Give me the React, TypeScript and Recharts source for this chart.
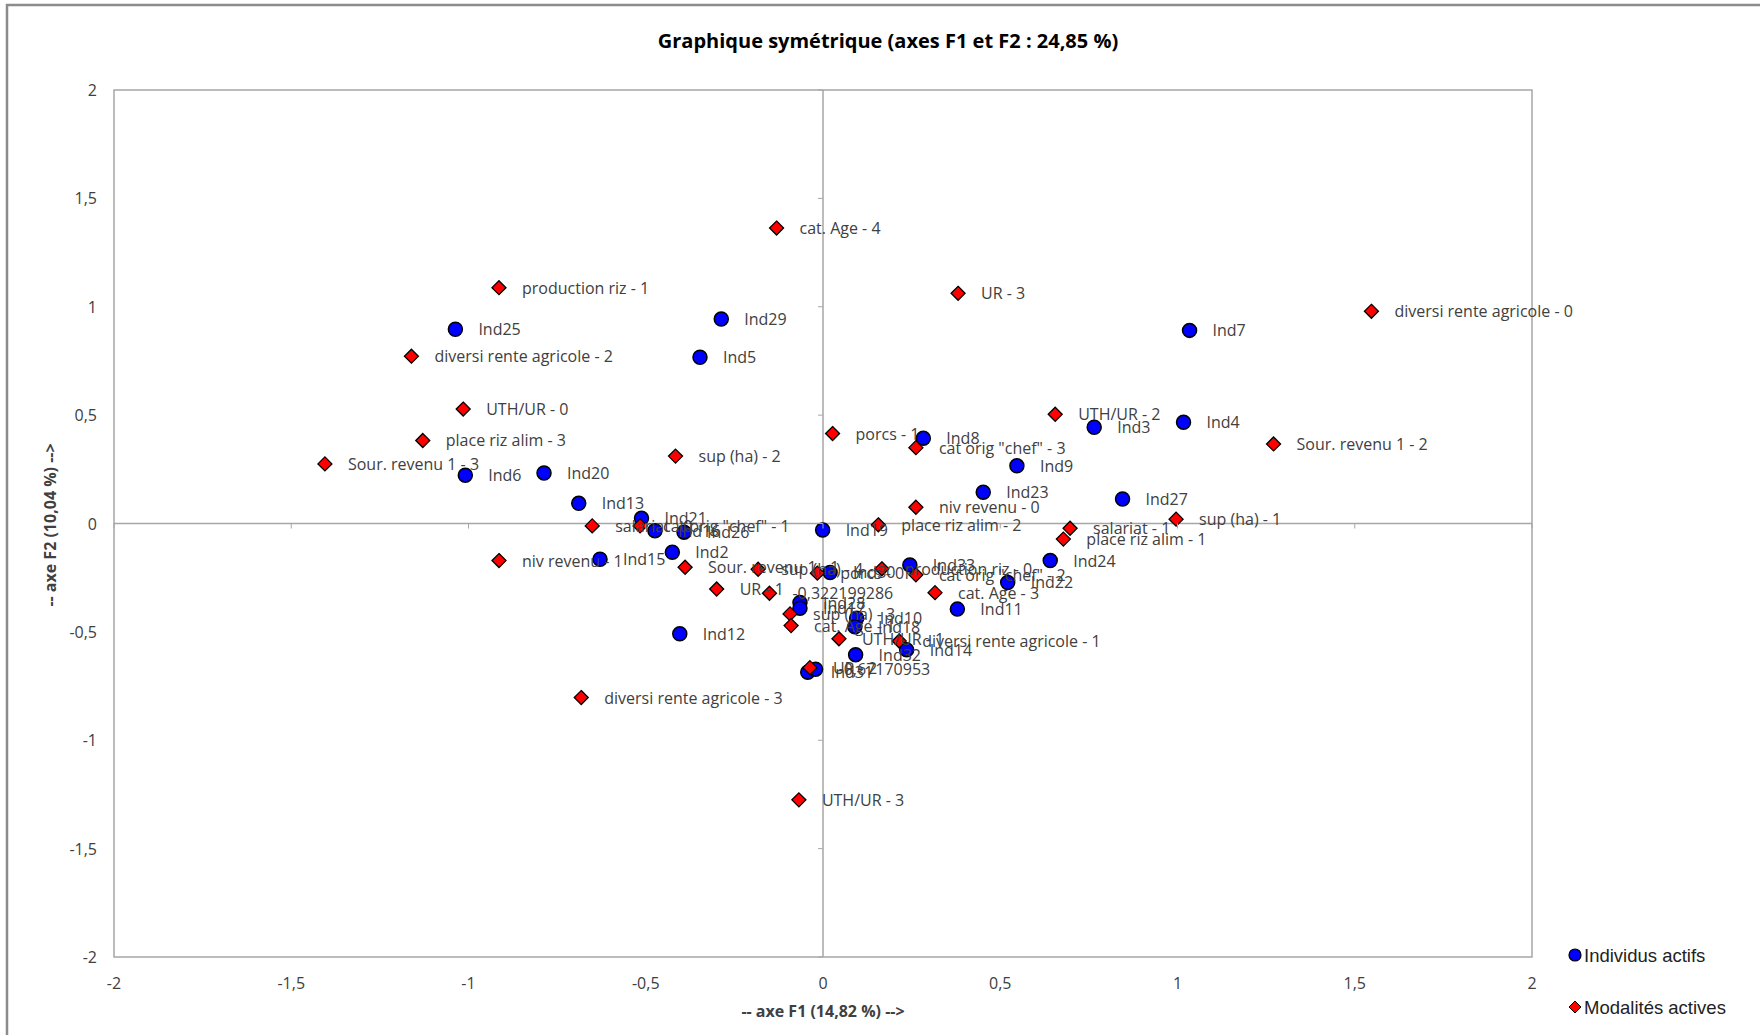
import React from 'react';
import { ScatterChart, Scatter, XAxis, YAxis, ReferenceLine, ReferenceArea } from 'recharts';

// F1 / F2 coordinates
const individusLabels = [
  'Ind25', 'Ind29', 'Ind5', 'Ind7', 'Ind4', 'Ind3', 'Ind8', 'Ind9', 'Ind23', 'Ind27', 'Ind6',
  'Ind20', 'Ind13', 'Ind21', 'Ind16', 'Ind26', 'Ind19', 'Ind2', 'Ind15', 'Ind12', 'Ind33', 'Ind24',
  'Ind22', 'Ind11', 'Ind14', 'Ind32', 'Ind31', '-0,67170953', 'Ind28', 'Ind17', 'Ind10', 'Ind18', 'Ind30',
];
const individusF1 = [
  -1.037, -0.287, -0.347, 1.034, 1.017, 0.765, 0.283, 0.547, 0.452, 0.845, -1.009,
  -0.787, -0.689, -0.512, -0.474, -0.392, -0.001, -0.425, -0.629, -0.404, 0.245, 0.641,
  0.521, 0.379, 0.236, 0.092, -0.043, -0.021, -0.065, -0.065, 0.095, 0.09, 0.02,
];
const individusF2 = [
  0.896, 0.943, 0.767, 0.891, 0.467, 0.444, 0.393, 0.266, 0.144, 0.113, 0.223,
  0.233, 0.093, 0.024, -0.033, -0.04, -0.03, -0.133, -0.165, -0.509, -0.191, -0.171,
  -0.272, -0.395, -0.583, -0.606, -0.686, -0.672, -0.365, -0.391, -0.437, -0.476, -0.226,
];

const modalitesLabels = [
  'cat. Age - 4', 'UR - 3', 'production riz - 1', 'diversi rente agricole - 0', 'diversi rente agricole - 2',
  'UTH/UR - 0', 'UTH/UR - 2', 'place riz alim - 3', 'Sour. revenu 1 - 3', 'sup (ha) - 2', 'porcs - 1',
  'cat orig "chef" - 3', 'Sour. revenu 1 - 2', 'niv revenu - 0', 'sup (ha) - 1', 'salariat - 1',
  'place riz alim - 1', 'place riz alim - 2', 'salariat - 0', 'cat orig "chef" - 1', 'niv revenu - 1',
  'Sour. revenu 1 - 1', 'sup (ha) - 4', 'UR - 1', '-0,322199286', 'porcs - 0', 'production riz - 0',
  'cat orig "chef" - 2', 'cat. Age - 3', 'sup (ha) - 3', 'cat. Age - 1', 'UTH/UR - 1',
  'diversi rente agricole - 1', 'UR - 2', 'diversi rente agricole - 3', 'UTH/UR - 3',
];
const modalitesF1 = [
  -0.131, 0.381, -0.914, 1.547, -1.161,
  -1.015, 0.655, -1.129, -1.405, -0.416, 0.027,
  0.262, 1.271, 0.262, 0.996, 0.697,
  0.678, 0.156, -0.651, -0.516, -0.914,
  -0.389, -0.183, -0.3, -0.151, -0.016, 0.166,
  0.262, 0.316, -0.093, -0.09, 0.045,
  0.215, -0.037, -0.682, -0.068,
];
const modalitesF2 = [
  1.363, 1.062, 1.088, 0.979, 0.772,
  0.528, 0.504, 0.383, 0.275, 0.311, 0.415,
  0.35, 0.367, 0.075, 0.02, -0.022,
  -0.072, -0.006, -0.011, -0.011, -0.171,
  -0.202, -0.211, -0.302, -0.322, -0.229, -0.209,
  -0.237, -0.319, -0.417, -0.471, -0.532,
  -0.542, -0.665, -0.803, -1.275,
];

const axisTicks = [-2, -1.5, -1, -0.5, 0, 0.5, 1, 1.5, 2];

const individus = individusLabels.map((label, i) => ({ x: individusF1[i], y: individusF2[i], label }));
const modalites = modalitesLabels.map((label, i) => ({ x: modalitesF1[i], y: modalitesF2[i], label }));

const W = 1760;
const H = 1035;
const PLOT_LEFT = 114;
const PLOT_RIGHT = 1532;
const PLOT_TOP = 90;
const PLOT_BOTTOM = 957;
const ZERO_X = (PLOT_LEFT + PLOT_RIGHT) / 2;
const ZERO_Y = (PLOT_TOP + PLOT_BOTTOM) / 2;

const FONT = '"Open Sans", "Noto Sans", sans-serif';
const GRAY = '#a6a6a6';
const TEXT = '#404040';

const fmt = (v: number) => String(v).replace('.', ',');

const XTick = ({ x, payload }: any) => (
  <g>
    <line x1={x} x2={x} y1={ZERO_Y} y2={ZERO_Y + 5} stroke={GRAY} />
    <text x={x} y={PLOT_BOTTOM + 26} textAnchor="middle" dominantBaseline="central" fontSize={16} fill={TEXT} fontFamily={FONT}>
      {fmt(payload.value)}
    </text>
  </g>
);

const YTick = ({ y, payload }: any) => (
  <g>
    <line x1={ZERO_X - 5} x2={ZERO_X} y1={y} y2={y} stroke={GRAY} />
    <text x={PLOT_LEFT - 17} y={y} textAnchor="end" dominantBaseline="central" fontSize={16} fill={TEXT} fontFamily={FONT}>
      {fmt(payload.value)}
    </text>
  </g>
);

const circleShape = (p: any) => (
  <circle cx={p.cx} cy={p.cy} r={7} fill="#0000ff" stroke="#000" strokeWidth={1.5} />
);

const diamondShape = (p: any) => {
  const { cx, cy } = p;
  const d = 7;
  return (
    <path
      d={`M${cx},${cy - d}L${cx + d},${cy}L${cx},${cy + d}L${cx - d},${cy}Z`}
      fill="#ff0000"
      stroke="#000"
      strokeWidth={1.3}
    />
  );
};

const labelShape = (p: any) => (
  <text x={p.cx + 23} y={p.cy} dominantBaseline="central" fontSize={16} fill={TEXT} fontFamily={FONT}>
    {p.payload.label}
  </text>
);

export default function App() {
  return (
    <div style={{ position: 'absolute', left: 0, top: 0, width: W, height: H, overflow: 'hidden', background: '#fff' }}>
      <ScatterChart
        width={W}
        height={H}
        margin={{ top: PLOT_TOP, right: W - PLOT_RIGHT, bottom: H - PLOT_BOTTOM - 60, left: PLOT_LEFT - 60 }}
      >
        <XAxis
          type="number"
          dataKey="x"
          domain={[-2, 2]}
          ticks={axisTicks}
          height={60}
          axisLine={false}
          tickLine={false}
          tick={<XTick />}
        />
        <YAxis
          type="number"
          dataKey="y"
          domain={[-2, 2]}
          ticks={axisTicks}
          width={60}
          axisLine={false}
          tickLine={false}
          tick={<YTick />}
        />
        <ReferenceArea x1={-2} x2={2} y1={-2} y2={2} fill="none" fillOpacity={0} stroke={GRAY} strokeWidth={1.5} />
        <ReferenceLine x={0} stroke={GRAY} strokeWidth={1.5} />
        <ReferenceLine y={0} stroke={GRAY} strokeWidth={1.5} />
        <Scatter name="Individus actifs" data={individus} shape={circleShape} isAnimationActive={false} />
        <Scatter name="Modalités actives" data={modalites} shape={diamondShape} isAnimationActive={false} />
        <Scatter data={individus} shape={labelShape} isAnimationActive={false} legendType="none" />
        <Scatter data={modalites} shape={labelShape} isAnimationActive={false} legendType="none" />
      </ScatterChart>

      <svg width={W} height={H} style={{ position: 'absolute', left: 0, top: 0, pointerEvents: 'none' }}>
        <rect x={7} y={5} width={W + 40} height={H + 40} fill="none" stroke="#8c8c8c" strokeWidth={2.5} />
        <text x={888} y={40} textAnchor="middle" dominantBaseline="central" fontSize={20} fontWeight="bold" fill="#000" fontFamily={FONT}>
          Graphique symétrique (axes F1 et F2 : 24,85 %)
        </text>
        <text x={ZERO_X} y={1011} textAnchor="middle" dominantBaseline="central" fontSize={16} fontWeight="bold" fill={TEXT} fontFamily={FONT}>
          -- axe F1 (14,82 %) --&gt;
        </text>
        <text
          x={50}
          y={525}
          transform="rotate(-90 50 525)"
          textAnchor="middle"
          dominantBaseline="central"
          fontSize={16}
          fontWeight="bold"
          fill={TEXT}
          fontFamily={FONT}
        >
          -- axe F2 (10,04 %) --&gt;
        </text>
        <circle cx={1575} cy={955} r={6} fill="#0000ff" stroke="#000" strokeWidth={1.2} />
        <text x={1584} y={955} dominantBaseline="central" fontSize={18.5} fill="#222" fontFamily='"Liberation Sans", Arial, sans-serif'>
          Individus actifs
        </text>
        <path d="M1575,1001L1581,1007L1575,1013L1569,1007Z" fill="#ff0000" stroke="#000" strokeWidth={1} />
        <text x={1584} y={1007} dominantBaseline="central" fontSize={18.5} fill="#222" fontFamily='"Liberation Sans", Arial, sans-serif'>
          Modalités actives
        </text>
      </svg>
    </div>
  );
}
